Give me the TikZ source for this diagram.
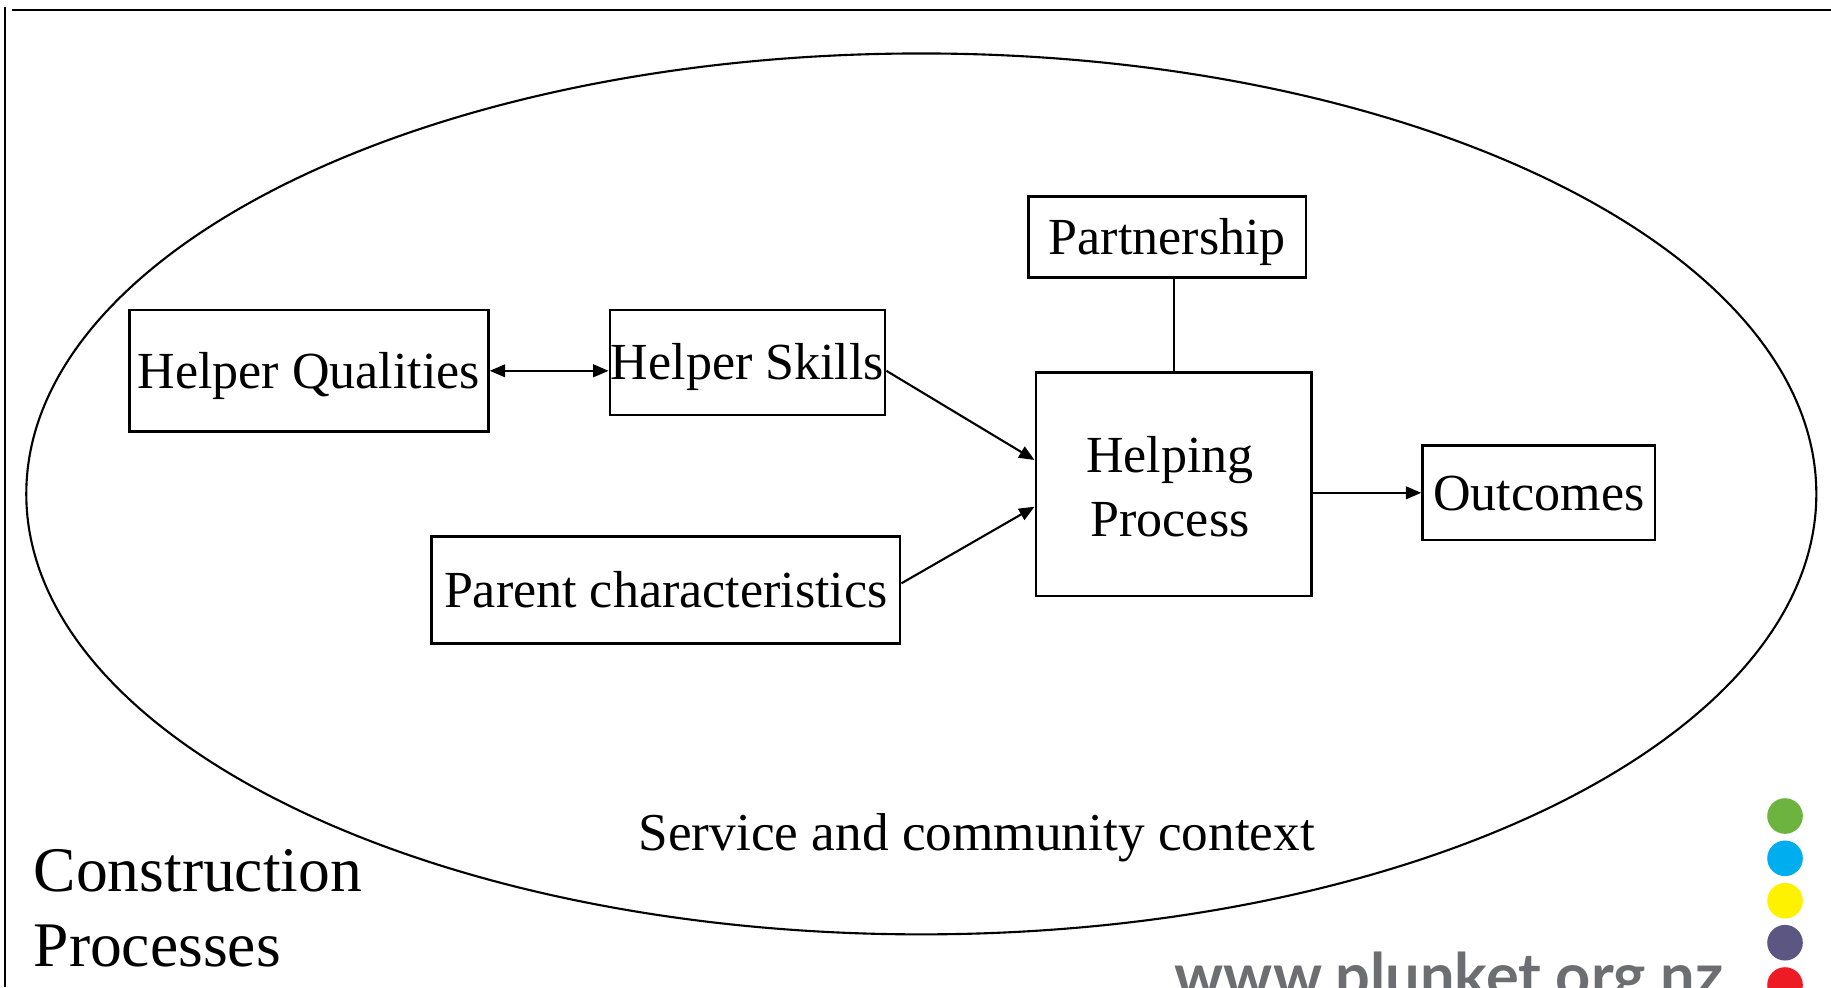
\documentclass[tikz,border=0pt]{standalone}
\usepackage{fontspec}
\setmainfont{Liberation Serif}
\newfontfamily\urlfont{Lato}
\usetikzlibrary{arrows.meta,calc}
\definecolor{dotgreen}{HTML}{6DB33F}
\definecolor{dotblue}{HTML}{00AEEF}
\definecolor{dotyellow}{HTML}{FFF200}
\definecolor{dotpurple}{HTML}{5C5683}
\definecolor{dotred}{HTML}{ED1C24}
\definecolor{urlgray}{HTML}{6D6E71}
\begin{document}
\begin{tikzpicture}[x=0.01cm,y=-0.01cm,
  boxfont/.style={font=\fontsize{14.8pt}{18.3pt}\selectfont},
  box/.style={draw, line width=0.75pt, inner sep=0pt, boxfont},
  capc/.style={text height=9.8pt, text depth=0pt},
  conn/.style={line width=0.6pt},
  tip/.tip={Triangle[length=4.4pt,width=3.6pt]},
  arr/.style={conn, -tip},
  dbl/.style={conn, tip-tip},
  frame/.style={line width=0.8pt}
]
\useasboundingbox (0,0) rectangle (1831,987);

% frame lines
\draw[frame] (12,10) -- (1831,10);
\draw[frame] (5,7) -- (5,987);

% context ellipse
\draw[line width=0.6pt] (921.3,493.9) ellipse [x radius=8.945cm, y radius=4.402cm];

% boxes
\node[box, capc, minimum width=3.59cm, minimum height=1.217cm] (hq) at (308.8,370.8) {Helper Qualities};
\node[box, capc, minimum width=2.75cm, minimum height=1.05cm] (hs) at (747.5,362.5) {Helper Skills};
\node[box, capc, minimum width=2.777cm, minimum height=0.806cm] (ps) at (1167.2,237) {Partnership};
\node[box, minimum width=2.757cm, minimum height=2.233cm] (hp) at (1173.8,484.3) {};
\node[boxfont, align=center, inner sep=0pt] (hpt) at (1170,487) {Helping\\Process};
\node[box, capc, minimum width=2.323cm, minimum height=0.943cm] (oc) at (1538.8,492.8) {Outcomes};
\node[box, capc, minimum width=4.683cm, minimum height=1.066cm] (pc) at (665.8,590) {Parent characteristics};

% connectors
\draw[dbl] (hq.east) -- (hq.east -| hs.west);
\draw[arr] (hs.east |- hq.east) -- ($(hp.west)+(0,-24.3)$);
\draw[arr] ($(pc.east)+(0,-6.7)$) -- ($(hp.west)+(0,22.4)$);
\draw[arr] (hp.east |- oc.west) -- (oc.west);
\draw[conn] (hp.north) -- (hp.north |- ps.south);

% labels
\node[anchor=base west, inner sep=0pt, font=\fontsize{15.15pt}{18pt}\selectfont] (svc) at (638,850) {Service and community context};
\node[anchor=base west, inner sep=0pt, font=\fontsize{18.07pt}{21.3pt}\selectfont] (cp1) at (33,891.7) {Construction};
\node[anchor=base west, inner sep=0pt, font=\fontsize{18.07pt}{21.3pt}\selectfont] (cp2) at (33,966.7) {Processes};

% logo
\node[anchor=base west, inner sep=0pt, text=urlgray] (url) at (1174,997) {\resizebox{5.48cm}{!}{\urlfont\bfseries www.plunket.org.nz}};
\fill[dotgreen] (1785,816) circle[radius=0.178cm];
\fill[dotblue] (1785,858.3) circle[radius=0.178cm];
\fill[dotyellow] (1785,900.7) circle[radius=0.178cm];
\fill[dotpurple] (1785,942.7) circle[radius=0.178cm];
\fill[dotred] (1785,985) circle[radius=0.178cm];
\end{tikzpicture}
\end{document}
